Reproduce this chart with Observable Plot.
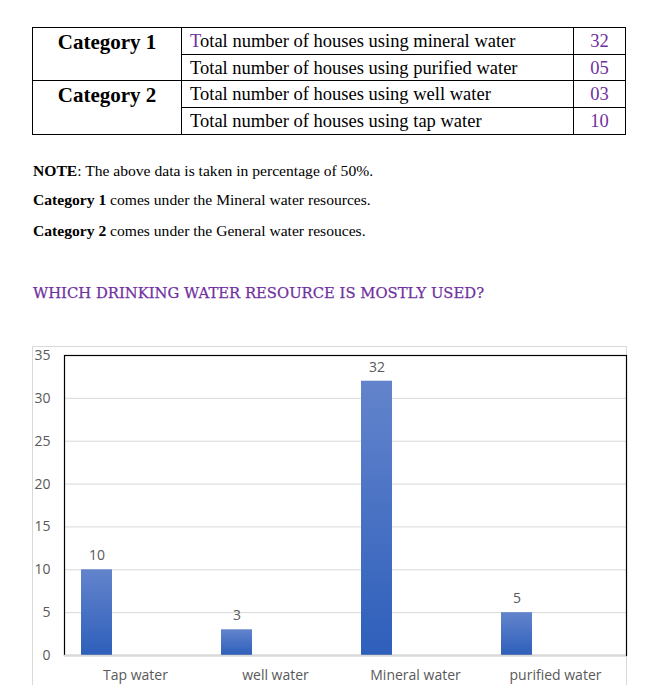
<!DOCTYPE html>
<html>
<head>
<meta charset="utf-8">
<script src="https://cdn.jsdelivr.net/npm/d3@7"></script>
<script src="https://cdn.jsdelivr.net/npm/@observablehq/plot@0.6"></script>
<style>
  html, body { margin: 0; padding: 0; background: #fff; }
  body { width: 649px; height: 685px; position: relative; overflow: hidden; font-family: "Liberation Serif", serif; }
  #tbl { position: absolute; left: 32px; top: 27px; border-collapse: collapse; width: 594px; }
  #tbl td { border: 1px solid #000; height: 25.7px; padding: 0; font-size: 18.5px; line-height: 20px; }
  #tbl td.cat { width: 148px; text-align: center; font-weight: bold; font-size: 21px; vertical-align: top; padding-top: 4px; }
  #tbl td.desc { padding-left: 8px; }
  #tbl td.num { width: 51px; text-align: center; color: #7030a0; }
  .note { position: absolute; left: 33px; font-size: 15.6px; color: #000; margin: 0; white-space: nowrap; }
  #title { position: absolute; left: 33px; top: 284px; font-family: "DejaVu Serif", serif; font-size: 14.8px; color: #7030a0; margin: 0; white-space: nowrap; -webkit-text-stroke: 0.25px #7030a0; }
  #chartbox { position: absolute; left: 32px; top: 346px; width: 595px; height: 400px; border: 1px solid #d9d9d9; box-sizing: border-box; }
  #chart { position: absolute; left: 0; top: 346px; }
</style>
</head>
<body>
<table id="tbl">
  <tr><td class="cat" rowspan="2">Category 1</td><td class="desc"><span style="color:#7030a0">T</span>otal number of houses using mineral water</td><td class="num">32</td></tr>
  <tr><td class="desc">Total number of houses using purified water</td><td class="num">05</td></tr>
  <tr><td class="cat" rowspan="2">Category 2</td><td class="desc">Total number of houses using well water</td><td class="num">03</td></tr>
  <tr><td class="desc">Total number of houses using tap water</td><td class="num">10</td></tr>
</table>
<p class="note" style="top:162px"><b>NOTE</b>: The above data is taken in percentage of 50%.</p>
<p class="note" style="top:191px"><b>Category 1</b> comes under the Mineral water resources.</p>
<p class="note" style="top:222px"><b>Category 2</b> comes under the General water resouces.</p>
<p id="title">WHICH DRINKING WATER RESOURCE IS MOSTLY USED?</p>
<div id="chartbox"></div>
<div id="chart"></div>
<script>
const categories = ["Tap water", "well water", "Mineral water", "purified water"];
const values = [10, 3, 32, 5];
const yTicks = [0, 5, 10, 15, 20, 25, 30, 35];

const data = categories.map((c, i) => ({category: c, value: values[i]}));

const defs = () => {
  const d = d3.create("svg:defs");
  const g = d.append("linearGradient").attr("id", "barGrad")
    .attr("x1", 0).attr("y1", 0).attr("x2", 0).attr("y2", 1);
  g.append("stop").attr("offset", "0%").attr("stop-color", "#6384cc");
  g.append("stop").attr("offset", "100%").attr("stop-color", "#2e5fbb");
  return d.node();
};

const chart = Plot.plot({
  width: 649,
  height: 339,
  marginLeft: 64,
  marginRight: 23,
  marginTop: 9,
  marginBottom: 30,
  style: {fontFamily: "'Open Sans', sans-serif", fontSize: "14px", color: "#595959", background: "transparent", overflow: "visible"},
  x: {domain: categories, padding: 0, label: null},
  y: {domain: [0, 35], label: null},
  marks: [
    defs,
    Plot.gridY(yTicks, {stroke: "#d9d9d9", strokeOpacity: 1}),
    Plot.barY(data, {x: "category", y: "value", fill: "url(#barGrad)", insetLeft: 16, insetRight: 93}),
    Plot.text(data, {x: "category", y: "value", text: d => String(d.value), dx: -38.5, dy: -14, fill: "#595959", fontSize: 14}),
    Plot.frame({stroke: "#000", strokeWidth: 1.2}),
    Plot.ruleY([0], {stroke: "#d9d9d9", strokeWidth: 1.5}),
    Plot.axisX({tickSize: 0, tickPadding: 15, fill: "#595959", fontSize: 14}),
    Plot.axisY(yTicks, {tickSize: 0, tickPadding: 14, fill: "#595959", fontSize: 14})
  ]
});
document.getElementById("chart").appendChild(chart);
</script>
</body>
</html>
